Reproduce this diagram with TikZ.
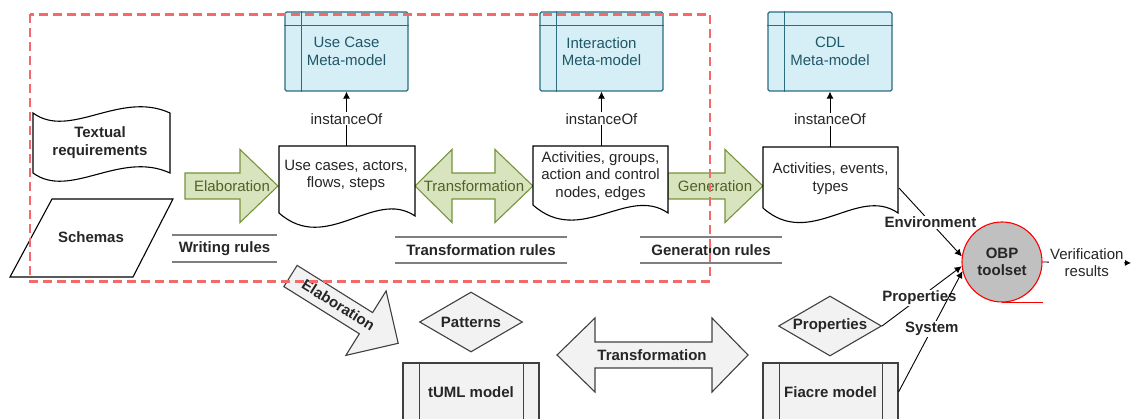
\documentclass[tikz,border=0pt]{standalone}
\usepackage{fontspec}
\setmainfont{Liberation Sans}
\usetikzlibrary{shapes.geometric,arrows.meta,calc}
\definecolor{grfill}{HTML}{D7E4BD}
\definecolor{grline}{HTML}{77933C}
\definecolor{grtext}{HTML}{4F6228}
\definecolor{mmfill}{HTML}{D6EEF5}
\definecolor{mmline}{HTML}{2B6C7E}
\definecolor{mmtext}{HTML}{1F5868}
\definecolor{gyfill}{HTML}{F2F2F2}
\definecolor{gyline}{HTML}{404040}
\definecolor{txt}{HTML}{262626}
\definecolor{rulecol}{HTML}{7F7F7F}
\definecolor{obpfill}{HTML}{C0C0C0}
\definecolor{dashred}{HTML}{F46A6A}
\newcommand\docshape[5]{%
  \draw[docst] (#1,#3) -- (#2,#3) -- (#2,#5) .. controls ({#2-0.3*(#2-#1)},{#5-28}) and ({#1+0.35*(#2-#1)},{#4+42}) .. (#1,#4) -- cycle;}
\newcommand\sarrow[7]{%
  \draw[#1] (#2,{#5-#6}) -- (#3,{#5-#6}) -- (#3,{#5-#7}) -- (#4,#5) -- (#3,{#5+#7}) -- (#3,{#5+#6}) -- (#2,{#5+#6}) -- cycle;}
\newcommand\darrow[8]{%
  \draw[#1] (#2,#6) -- (#3,{#6-#8}) -- (#3,{#6-#7}) -- (#4,{#6-#7}) -- (#4,{#6-#8}) -- (#5,#6) -- (#4,{#6+#8}) -- (#4,{#6+#7}) -- (#3,{#6+#7}) -- (#3,{#6+#8}) -- cycle;}
\begin{document}
\begin{tikzpicture}[x=1pt,y=-1pt,
  font=\fontsize{15}{17.5}\selectfont,
  every node/.style={text=txt},
  lbl/.style={inner sep=0pt, align=center},
  blbl/.style={inner sep=0pt, align=center, font=\fontsize{15}{17.5}\selectfont\bfseries},
  docst/.style={draw=black, fill=white, line width=1.1pt},
  grarrow/.style={draw=grline, fill=grfill, line width=1.1pt},
  gyarrow/.style={draw=gyline, fill=gyfill, line width=1.1pt},
  grlbl/.style={inner sep=0pt, text=grtext},
  metabox/.style={draw=mmline, fill=mmfill, line width=1.3pt, rounded corners=1.5pt, minimum width=123pt, minimum height=79pt, inner sep=0pt, align=center, text=mmtext},
  mmline/.style={draw=mmline, line width=1.1pt},
  greybox/.style={draw=gyline, fill=gyfill, line width=1.1pt, minimum width=136pt, minimum height=58pt, inner sep=0pt, font=\fontsize{15}{17.5}\selectfont\bfseries},
  gdiamond/.style={diamond, draw=gyline, fill=gyfill, line width=1.1pt, aspect=1.72, minimum width=103pt, minimum height=60pt, inner sep=0pt, font=\fontsize{15}{17.5}\selectfont\bfseries},
  rulel/.style={draw=rulecol, line width=1.6pt},
  conn/.style={draw=black, line width=0.9pt},
  tip/.style={-{Latex[length=7pt,width=7pt]}},
  onlbl/.style={fill=white, inner sep=1pt, align=center}
]
\useasboundingbox (0,0) rectangle (1135,419);
\clip (0,0) rectangle (1135,419);

% meta-model boxes
\node[metabox] (ucmm) at (346.5,51.5) {Use Case\\Meta-model};
\node[metabox] (inmm) at (601.5,51.5) {Interaction\\Meta-model};
\node[metabox, minimum width=124pt] (cdlmm) at (830,51.5) {CDL\\Meta-model};
\foreach \b in {ucmm,inmm,cdlmm}{
  \draw[mmline] ([yshift=-14pt]\b.north west) -- ([yshift=-14pt]\b.north east);
  \draw[mmline] ([xshift=17pt]\b.north west) -- ([xshift=17pt]\b.south west);
}

% green arrows
\sarrow{grarrow}{185}{240}{278}{186}{13}{36.5}
\darrow{grarrow}{415}{452}{495}{533}{186}{13}{36.5}
\sarrow{grarrow}{668}{725}{763}{186}{13}{36.5}
\node[grlbl] (elab1) at (232,186) {Elaboration};
\node[grlbl] (trans1) at (474,186) {Transformation};
\node[grlbl] (gen1) at (715,186) {Generation};

% documents
\docshape{279}{415}{146}{213}{216}
\docshape{533}{668}{146}{205}{213}
\docshape{763}{898}{147}{208}{213}
\node[lbl] (ucdoc) at (346,175.5) {Use cases, actors,\\flows, steps};
\node[lbl] (indoc) at (600.5,176) {Activities, groups,\\action and control\\nodes, edges};
\node[lbl] (cdldoc) at (830.5,178.5) {Activities, events,\\types};
\coordinate (uctop) at (346.5,146);
\coordinate (intop) at (601.5,146);
\coordinate (cdltop) at (830,147);
\draw[conn,tip] (uctop) -- (ucmm) node[midway, onlbl] (io1) {instanceOf};
\draw[conn,tip] (intop) -- (inmm) node[midway, onlbl] (io2) {instanceOf};
\draw[conn,tip] (cdltop) -- (cdlmm) node[midway, onlbl] (io3) {instanceOf};

% textual requirements (tape)
\draw[docst] (33,113) .. controls (70,140) and (120,90) .. (170,113) -- (170,173)
  .. controls (120,150) and (70,200) .. (33,173) -- cycle;
\node[blbl] (textreq) at (100,142.5) {Textual\\requirements};

% schemas (parallelogram)
\draw[docst] (52,199) -- (173,199) -- (133,277) -- (10,277) -- cycle;
\node[blbl] (schemas) at (91,237) {Schemas};

% rules
\draw[rulel] (172,235) -- (277,235);
\draw[rulel] (172,262) -- (277,262);
\node[blbl] (wrules) at (224.5,248.5) {Writing rules};
\draw[rulel] (395,237) -- (567,237);
\draw[rulel] (395,263) -- (567,263);
\node[blbl] (trules) at (481,250) {Transformation rules};
\draw[rulel] (640,237) -- (782,237);
\draw[rulel] (640,263) -- (782,263);
\node[blbl] (grules) at (711,250) {Generation rules};

% diagonal elaboration arrow
\begin{scope}[shift={(290.5,276)}, rotate=-32]
  \draw[gyarrow] (0,-12.5) -- (89,-12.5) -- (89,-38) -- (127,0) -- (89,38) -- (89,12.5) -- (0,12.5) -- cycle;
\end{scope}
\node[blbl, rotate=-32] (elab2) at (338.5,305) {Elaboration};

% grey transformation arrow
\darrow{gyarrow}{557}{595}{712}{748}{355}{13}{37}
\node[blbl] (trans2) at (652,355) {Transformation};

% diamonds and bottom boxes
\node[gdiamond] (patterns) at (471,322) {Patterns};
\node[gdiamond] (propd) at (830,326) {Properties};
\node[greybox] (tuml) at (471,392) {tUML model};
\node[greybox, minimum width=135pt] (fiacre) at (830.5,392) {Fiacre model};
\foreach \b in {tuml,fiacre}{
  \draw[draw=gyline, line width=1.1pt] ([xshift=17pt]\b.north west) -- ([xshift=17pt]\b.south west);
  \draw[draw=gyline, line width=1.1pt] ([xshift=-16pt]\b.north east) -- ([xshift=-16pt]\b.south east);
}

% OBP toolset
\node[circle, draw=red, fill=obpfill, line width=1.1pt, minimum size=80pt, inner sep=0pt, align=center, font=\fontsize{15}{17.5}\selectfont\bfseries] (obp) at (1002,262) {OBP\\toolset};
\draw[red, line width=1.1pt] (obp.south) -- ++(41,0);
\coordinate (vres) at (1131,263);
\draw[conn, -{Latex[length=6pt,width=6pt]}] (obp.east) -- (vres) node[pos=0.5, onlbl] (vlbl) {Verification\\results};

\coordinate (cdlenv) at (899,188);
\draw[conn,tip] (cdlenv) -- (obp.172) node[midway, onlbl, font=\fontsize{15}{17.5}\selectfont\bfseries] (envl) {Environment};
\draw[conn,tip] (propd.east) -- (obp.186) node[pos=0.47, onlbl, font=\fontsize{15}{17.5}\selectfont\bfseries] (propl) {Properties};
\draw[conn,tip] (fiacre.east) -- (obp.193) node[pos=0.52, onlbl, font=\fontsize{15}{17.5}\selectfont\bfseries] (sysl) {System};

% red dashed frame
\draw[dashred, line width=2.2pt, dash pattern=on 9pt off 5pt] (30,14.5) rectangle (710,281.5);
\end{tikzpicture}
\end{document}
